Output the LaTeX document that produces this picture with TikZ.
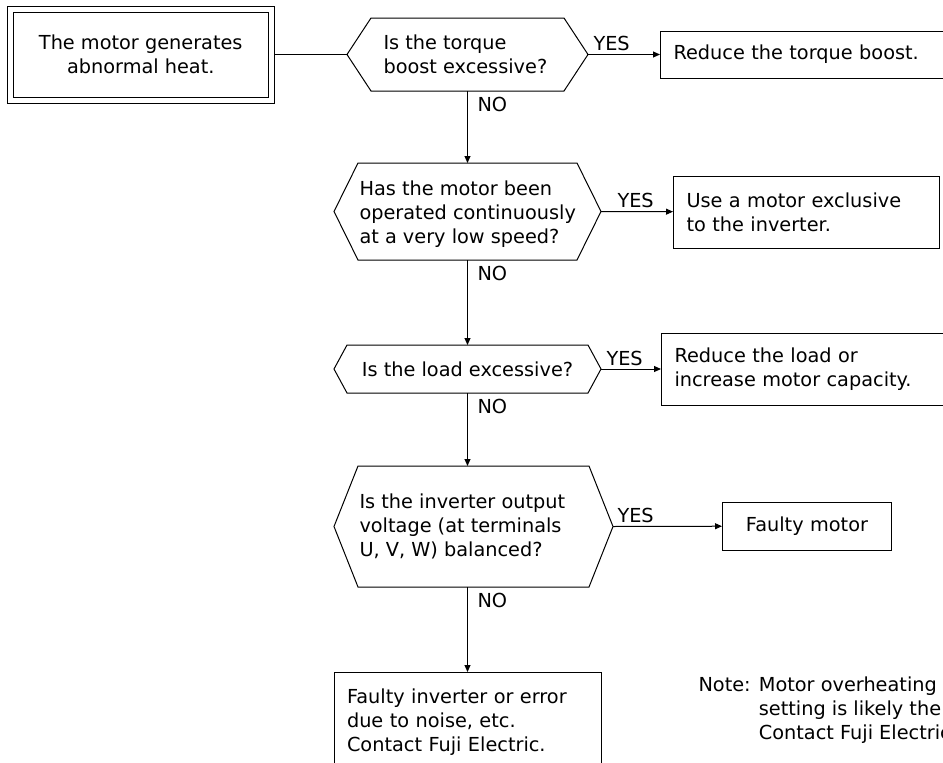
\documentclass[tikz,border=0pt]{standalone}
\usepackage{fontspec}
\setmainfont{DejaVu Sans}
\usetikzlibrary{arrows.meta}

\begin{document}
\begin{tikzpicture}[
  x=1pt, y=-1pt,
  font=\fontsize{19.3}{24}\selectfont,
  line width=1pt,
  startbox/.style={draw, double, double distance=5pt, minimum width=261.5pt,
    minimum height=91pt, align=center, outer sep=3.5pt},
  act/.style={draw, align=left, inner xsep=13pt, inner ysep=0pt, anchor=west},
  qtxt/.style={align=left, inner sep=0pt, anchor=west},
  arr/.style={-{Triangle[length=7pt, width=6pt]}},
  yes/.style={inner sep=0pt, anchor=base west, yshift=4pt},
  no/.style={inner sep=0pt, anchor=north west, xshift=9.5pt, yshift=-6pt},
]
  \useasboundingbox (0,0) rectangle (943,763);
  \clip (0,0) rectangle (943,763);

  \node[startbox] (start) at (140.75,54.5) {The motor generates\\abnormal heat.};

  % decision hexagons: name/left/right/top/bottom/inset
  \foreach \nm/\xl/\xr/\yt/\yb/\d in {q1/347/588/18/91/24, q2/334/601/163/260/24,
      q3/334/601/345/393/13, q4/334/613/466/587/24} {
    \draw (\xl,{(\yt+\yb)/2}) coordinate (\nm-w) -- (\xl+\d,\yt) -- (\xr-\d,\yt)
      -- (\xr,{(\yt+\yb)/2}) coordinate (\nm-e) -- (\xr-\d,\yb) -- (\xl+\d,\yb) -- cycle;
    \coordinate (\nm-n) at (467.5,\yt);
    \coordinate (\nm-s) at (467.5,\yb);
  }

  \node[qtxt] (q1) at (383,54.5) {Is the torque\\boost excessive?};
  \node[qtxt] (q2) at (359,214) {Has the motor been\\operated continuously\\at a very low speed?};
  \node[qtxt, anchor=center] (q3) at (467.5,369) {Is the load excessive?};
  \node[qtxt] (q4) at (359,526.5) {Is the inverter output\\voltage (at terminals\\U, V, W) balanced?};

  % answer boxes
  \node[act, minimum width=300pt, minimum height=47pt, text width=274pt] (a1)
    at (660,54.5) {Reduce the torque boost.};
  \node[act, minimum width=266pt, minimum height=72pt, text width=240pt] (a2)
    at (673,212) {Use a motor exclusive\\to the inverter.};
  \node[act, minimum width=299pt, minimum height=72pt, text width=273pt] (a3)
    at (661,369) {Reduce the load or\\increase motor capacity.};
  \node[act, minimum width=169pt, minimum height=48pt, text width=143pt, align=center] (a4)
    at (722,526) {Faulty motor};
  \node[act, anchor=north, text width=241pt, inner ysep=16pt] (a5)
    at (467.5,672) {Faulty inverter or error\\due to noise, etc.\\Contact Fuji Electric.};

  \node[anchor=base west, inner sep=0pt] (note) at (698,691)
    {Note: \begin{tabular}[t]{@{}l@{}}Motor overheating f\\setting is likely the\\Contact Fuji Electric.\end{tabular}};

  % connectors
  \draw (start) -- (q1-w);
  \draw[arr] (q1-e) -- node[yes, pos=0, xshift=5pt]{YES} (a1);
  \draw[arr] (q1-s) -- node[no, pos=0]{NO} (q2-n);
  \draw[arr] (q2-e) -- node[yes, pos=0, xshift=16pt]{YES} (a2);
  \draw[arr] (q2-s) -- node[no, pos=0]{NO} (q3-n);
  \draw[arr] (q3-e) -- node[yes, pos=0, xshift=5pt]{YES} (a3);
  \draw[arr] (q3-s) -- node[no, pos=0]{NO} (q4-n);
  \draw[arr] (q4-e) -- node[yes, pos=0, xshift=4pt]{YES} (a4);
  \draw[arr] (q4-s) -- node[no, pos=0]{NO} (a5);
\end{tikzpicture}
\end{document}
